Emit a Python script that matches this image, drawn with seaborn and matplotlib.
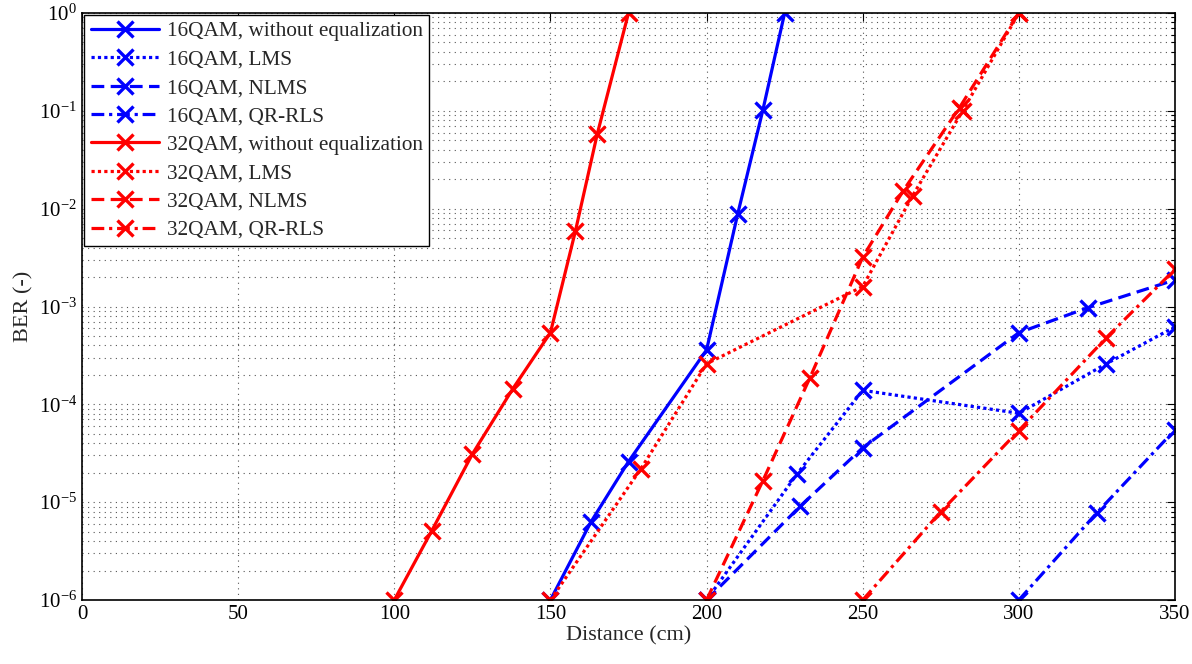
import numpy as np
import pandas as pd
import matplotlib
matplotlib.use("Agg")
import matplotlib.pyplot as plt
import seaborn as sns
from matplotlib.ticker import FixedLocator, NullFormatter, LogFormatterSciNotation

# ---- data ----
x_16_none = [150, 163, 175, 200, 210, 218, 225]
y_16_none = [1e-6, 6.3e-6, 2.6e-5, 3.6e-4, 8.9e-3, 0.101, 1.0]

x_16_lms = [200, 229, 250, 300, 328, 350]
y_16_lms = [1e-6, 1.95e-5, 1.39e-4, 8.1e-5, 2.6e-4, 6.2e-4]

x_16_nlms = [200, 230, 250, 300, 322, 350]
y_16_nlms = [1e-6, 9.1e-6, 3.6e-5, 5.4e-4, 9.7e-4, 1.87e-3]

x_16_qr = [300, 325, 350]
y_16_qr = [1e-6, 7.8e-6, 5.5e-5]

x_32_none = [100, 112, 125, 138, 150, 158, 165, 175]
y_32_none = [1e-6, 5.1e-6, 3.1e-5, 1.45e-4, 5.4e-4, 5.9e-3, 0.058, 1.0]

x_32_lms = [150, 179, 200, 250, 266, 282, 300]
y_32_lms = [1e-6, 2.2e-5, 2.6e-4, 1.6e-3, 0.0136, 0.10, 1.0]

x_32_nlms = [200, 218, 233, 250, 263, 281, 300]
y_32_nlms = [1e-6, 1.65e-5, 1.84e-4, 3.2e-3, 0.0153, 0.108, 1.0]

x_32_qr = [250, 275, 300, 328, 350]
y_32_qr = [1e-6, 8e-6, 5.4e-5, 4.8e-4, 2.4e-3]

x_ticks = [0, 50, 100, 150, 200, 250, 300, 350]
y_exponents = [-6, -5, -4, -3, -2, -1, 0]

labels = ["16QAM, without equalization", "16QAM, LMS", "16QAM, NLMS", "16QAM, QR-RLS",
          "32QAM, without equalization", "32QAM, LMS", "32QAM, NLMS", "32QAM, QR-RLS"]
xs = [x_16_none, x_16_lms, x_16_nlms, x_16_qr, x_32_none, x_32_lms, x_32_nlms, x_32_qr]
ys = [y_16_none, y_16_lms, y_16_nlms, y_16_qr, y_32_none, y_32_lms, y_32_nlms, y_32_qr]
colors = ["#0000ff"] * 4 + ["#ff0000"] * 4
styles = ["-", (0, (1, 1)), (0, (4, 2)), (0, (4, 1.5, 1, 1.5))] * 2

sns.set_theme(style="white")
plt.rcParams["font.family"] = ["Liberation Serif", "DejaVu Serif"]
plt.rcParams["mathtext.fontset"] = "custom"
plt.rcParams["mathtext.rm"] = "Liberation Serif"
plt.rcParams["mathtext.it"] = "Liberation Serif:italic"

fig = plt.figure(figsize=(11.92, 6.64), dpi=100)
ax = fig.add_axes([82 / 1192, 1 - 600 / 664, (1175 - 82) / 1192, (600 - 13) / 664])

for x, y, lab, c, ls in zip(xs, ys, labels, colors, styles):
    df = pd.DataFrame({"x": x, "y": y})
    sns.lineplot(data=df, x="x", y="y", ax=ax, color=c, linestyle=ls, linewidth=2.3,
                 marker="x", markersize=11, markeredgewidth=2.4, markeredgecolor=c,
                 label=lab, sort=False, estimator=None)

ax.set_yscale("log")
ax.set_xlim(0, 350)
ax.set_ylim(1e-6, 1)
ax.set_xticks(x_ticks)
major = [10.0 ** e for e in y_exponents]
minor = [m * 10.0 ** e for e in y_exponents[:-1] for m in range(2, 10)]
ax.yaxis.set_major_locator(FixedLocator(major))
ax.yaxis.set_major_formatter(LogFormatterSciNotation())
ax.yaxis.set_minor_locator(FixedLocator(minor))
ax.yaxis.set_minor_formatter(NullFormatter())

ax.grid(True, which="major", linestyle=(0, (1, 4)), color="#555555", linewidth=0.8)
ax.grid(True, which="minor", axis="y", linestyle=(0, (1, 4)), color="#555555", linewidth=0.8)

ax.tick_params(axis="both", which="both", direction="in", top=True, right=True,
               labelsize=15, colors="black")
ax.tick_params(which="major", length=6, width=0.8)
ax.tick_params(which="minor", length=3, width=0.8)
for s in ax.spines.values():
    s.set_color("black")
    s.set_linewidth(1.2)

ax.set_xlabel("Distance (cm)", fontsize=16, labelpad=2)
ax.set_ylabel("BER (-)", fontsize=16, labelpad=4)

leg = ax.legend(loc="upper left", fontsize=15.3, frameon=True, fancybox=False,
                borderaxespad=0.1, handlelength=3.2, labelspacing=0.4,
                borderpad=0.3, handletextpad=0.4)
leg.get_frame().set_edgecolor("black")
leg.get_frame().set_linewidth(1.0)
leg.get_frame().set_alpha(1)

fig.savefig("out.png", dpi=100)
